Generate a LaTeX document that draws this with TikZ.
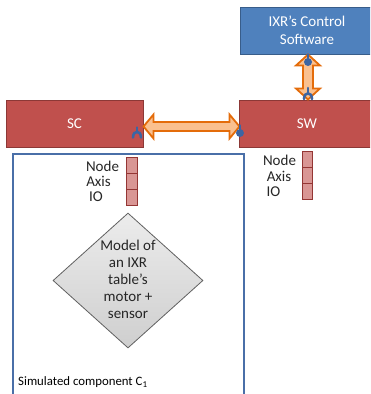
\documentclass[tikz,border=0pt]{standalone}
\usepackage{fontspec}
\setmainfont{Carlito}
\usetikzlibrary{calc,shapes.geometric}
\definecolor{boxblue}{HTML}{4F81BD}
\definecolor{boxblueline}{HTML}{385D8A}
\definecolor{boxred}{HTML}{C0504D}
\definecolor{boxredline}{HTML}{8C3836}
\definecolor{cellfill}{HTML}{D99694}
\definecolor{cellline}{HTML}{943634}
\definecolor{arrfill}{HTML}{FAC08F}
\definecolor{arrline}{HTML}{E46C0A}
\definecolor{glyphblue}{HTML}{3C65A3}
\definecolor{frameblue}{HTML}{4A6FA8}
\begin{document}
\begin{tikzpicture}[x=1pt,y=-1pt,
  bluebox/.style={draw=boxblueline, fill=boxblue, line width=1pt, text=white, align=center,
    font=\fontsize{15}{18}\selectfont, inner sep=0pt},
  redbox/.style={draw=boxredline, fill=boxred, line width=1pt, text=white,
    font=\fontsize{15}{18}\selectfont, inner sep=0pt},
  cell/.style={draw=cellline, fill=cellfill, line width=1pt, minimum width=11pt, inner sep=0pt},
  lbl/.style={font=\fontsize{15}{18}\selectfont, inner sep=0pt, text=black!85},
  dblarrow/.style={draw=arrline, fill=arrfill, line width=1.8pt},
  glyph/.style={draw=glyphblue, line width=2.6pt, line cap=round},
  frame/.style={draw=frameblue, line width=1.5pt}
]
\useasboundingbox (0,0) rectangle (370,394);
\clip (0,0) rectangle (370,394);

% boxes
\node[bluebox, minimum width=134pt, minimum height=47pt] (ctrl) at (307,30.5) {IXR’s Control\\Software};
\node[redbox, minimum width=137pt, minimum height=47pt] (sc) at (74.5,123.5) {SC};
\node[redbox, minimum width=136pt, minimum height=47pt] (sw) at (307,123.5) {SW};

% simulated component frame
\node[frame, minimum width=231pt, minimum height=260pt, anchor=north west, inner sep=0pt] (comp) at (12,153) {};
\node[font=\fontsize{12.8}{15}\selectfont, anchor=west, inner sep=0pt] (complbl) at (18,382) {Simulated component C\textsubscript{1}};

% left cells and labels
\node[cell, minimum height=16pt] (ln) at (131.5,165) {};
\node[cell, minimum height=16pt] (la) at (131.5,181) {};
\node[cell, minimum height=16pt] (li) at (131.5,197) {};
\node[lbl] (lnt) at (102.5,166) {Node};
\node[lbl] (lat) at (98.5,181.5) {Axis};
\node[lbl] (lit) at (96,197) {IO};

% right cells and labels
\node[cell, minimum width=10pt, minimum height=15.7pt] (rn) at (307,159.8) {};
\node[cell, minimum width=10pt, minimum height=15.7pt] (ra) at (307,175.5) {};
\node[cell, minimum width=10pt, minimum height=15.7pt] (ri) at (307,191.2) {};
\node[lbl] (rnt) at (279.5,160.5) {Node};
\node[lbl] (rat) at (279,176) {Axis};
\node[lbl] (rit) at (273.5,191.5) {IO};

% diamond model
\node[diamond, draw=gray!75!black, top color=gray!15, bottom color=gray!38, line width=0.8pt,
      minimum width=150pt, minimum height=135pt, inner sep=0pt] (model) at (128,280.5) {};
\node[font=\fontsize{15}{17}\selectfont, align=center, inner sep=0pt, text=black!85] (modeltxt) at (128,279.5)
  {Model of\\an IXR\\table’s\\motor +\\sensor};

% horizontal double arrow between SC and SW
\coordinate (hl) at ($(sc.east)+(0,3)$);
\coordinate (hr) at ($(sw.west)+(1,3)$);
\draw[dblarrow] (hl) -- ($(hl)+(10,-12)$) -- ($(hl)+(10,-4.5)$) -- ($(hr)+(-10,-4.5)$) -- ($(hr)+(-10,-12)$)
  -- (hr) -- ($(hr)+(-10,12)$) -- ($(hr)+(-10,4.5)$) -- ($(hl)+(10,4.5)$) -- ($(hl)+(10,12)$) -- cycle;

% vertical double arrow between control software and SW
\coordinate (vt) at ($(ctrl.south)+(1,0)$);
\coordinate (vb) at ($(sw.north)+(1,0)$);
\draw[dblarrow] (vt) -- ($(vt)+(12,11)$) -- ($(vt)+(5,11)$) -- ($(vb)+(5,-11)$) -- ($(vb)+(12,-11)$)
  -- (vb) -- ($(vb)+(-12,-11)$) -- ($(vb)+(-5,-11)$) -- ($(vt)+(-5,11)$) -- ($(vt)+(-12,11)$) -- cycle;

% connection glyphs
\draw[glyph] (137,127.5) -- (137,131.5);
\draw[glyph] (133,137.5) .. controls (133,130) and (141,130) .. (141,137.5);
\draw[glyph] (240,125.5) -- (240,130);
\fill[glyphblue] (240,133) circle (4pt);
\draw[glyph] (308,54.5) -- (308,59);
\fill[glyphblue] (308,62) circle (4pt);
\draw[glyph] (308,88) -- (308,92.5);
\draw[glyph] (304,99) .. controls (304,91.5) and (312,91.5) .. (312,99);
\end{tikzpicture}
\end{document}
